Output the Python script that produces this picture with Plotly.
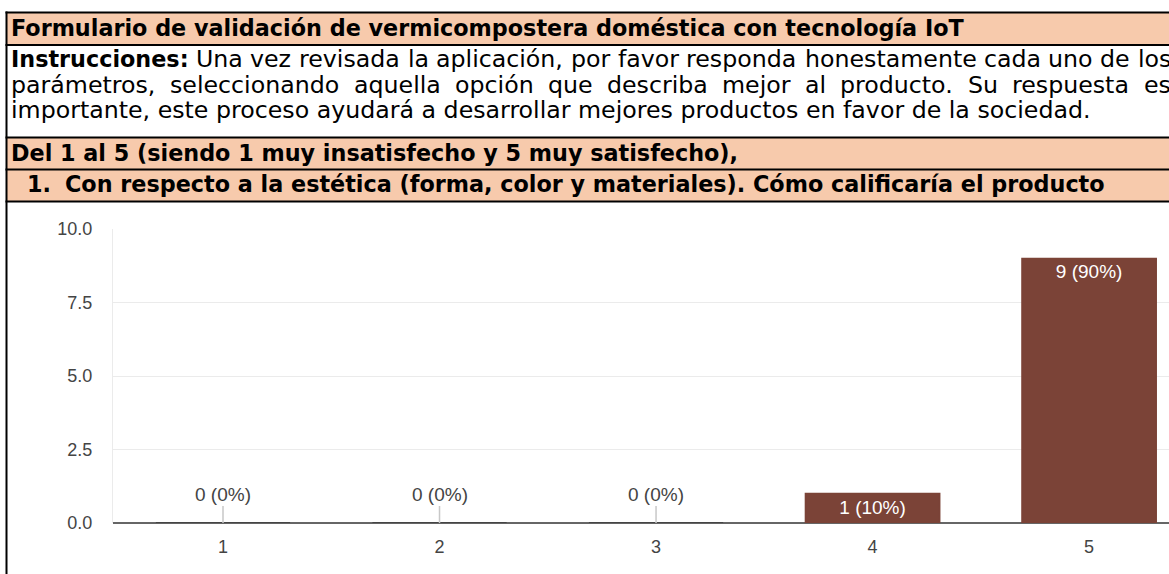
import unicodedata
import plotly.graph_objects as go

W, H = 1169, 574

# ---------------- data ----------------
categories = ["1", "2", "3", "4", "5"]
counts = [0, 0, 0, 1, 9]
y_ticks = [0, 2.5, 5, 7.5, 10]
y_tick_labels = ["0.0", "2.5", "5.0", "7.5", "10.0"]

title_text = "Formulario de validación de vermicompostera doméstica con tecnología IoT"
instr_bold = "Instrucciones:"
instr_lines = [
    "Una vez revisada la aplicación, por favor responda honestamente cada uno de los",
    "parámetros, seleccionando aquella opción que describa mejor al producto. Su respuesta es",
    "importante, este proceso ayudará a desarrollar mejores productos en favor de la sociedad.",
]
scale_text = "Del 1 al 5 (siendo 1 muy insatisfecho y 5 muy satisfecho),"
question_num = "1."
question_text = "Con respecto a la estética (forma, color y materiales). Cómo calificaría el producto"

# ---------------- styling ----------------
PEACH = "#F7CAAC"
BAR = "#7B4337"
TXT_FONT = "DejaVu Sans"
REG_SIZE = 23.7
BOLD_SIZE = 22.3
CHART_FONT = "Liberation Sans, Arial, sans-serif"

# approximate DejaVu Sans advance widths (units of 2048)
REG_W = dict(zip("abcdefghijklmnopqrstuvwxyz",
                 [1255, 1300, 1126, 1300, 1260, 721, 1300, 1298, 569, 569, 1186, 569, 1995,
                  1298, 1253, 1300, 1300, 842, 1067, 803, 1298, 1212, 1675, 1212, 1212, 1075]))
REG_W.update({" ": 651, ",": 651, ".": 651, ":": 690, "(": 799, ")": 799, "U": 1499,
              "S": 1300, "I": 604, "D": 1577, "C": 1430, "F": 1178})
BOLD_W = dict(zip("abcdefghijklmnopqrstuvwxyz",
                  [1382, 1466, 1214, 1466, 1389, 891, 1466, 1458, 702, 702, 1362, 702, 2134,
                   1458, 1407, 1466, 1466, 1010, 1219, 979, 1458, 1335, 1817, 1331, 1335, 1214]))
BOLD_W.update({" ": 713, ",": 780, ".": 780, ":": 819, "(": 936, ")": 936, "I": 762,
               "D": 1704, "C": 1464, "F": 1399, "T": 1399})


def base_char(ch):
    return unicodedata.normalize("NFD", ch)[0]


def text_width(s, bold):
    tbl = BOLD_W if bold else REG_W
    size = BOLD_SIZE if bold else REG_SIZE
    return sum(tbl.get(base_char(c), 1300) for c in s) / 2048 * size


def px(x):
    return x / W


def py(y):
    return 1 - y / H


fig = go.Figure()

total = sum(counts)
labels = [f"{c} ({round(100 * c / total)}%)" for c in counts]

# bars
fig.add_trace(go.Bar(
    x=categories, y=counts, width=0.62,
    marker=dict(color=BAR, line=dict(color=["#3a3a3a" if c == 0 else BAR for c in counts], width=1.5)),
    text=[lab if c > 0 else "" for lab, c in zip(labels, counts)],
    textposition="inside", insidetextanchor="end",
    textfont=dict(family=CHART_FONT, size=19, color="white"),
    constraintext="none", cliponaxis=False, showlegend=False, hoverinfo="skip",
))

annotations = []
# zero-value labels with stems (x given as category index)
for i, (c, lab) in enumerate(zip(counts, labels)):
    if c == 0:
        annotations.append(dict(
            x=i, y=c, xref="x", yref="y", text=lab,
            showarrow=True, arrowhead=0, arrowwidth=1.5, arrowcolor="#c8c8c8",
            ax=0, ay=-29, standoff=0,
            font=dict(family=CHART_FONT, size=19, color="#444444"),
        ))


def add_text(x, y, s, bold, size=None):
    size = size or (BOLD_SIZE if bold else REG_SIZE)
    annotations.append(dict(
        x=px(x), y=py(y), xref="paper", yref="paper", xanchor="left", yanchor="middle",
        text=f"<b>{s}</b>" if bold else s, showarrow=False, borderpad=0, borderwidth=0,
        font=dict(family=TXT_FONT, size=size, color="black"),
    ))


def add_justified(words, x0, x1, y):
    widths = [text_width(w, b) for w, b in words]
    gap = (x1 - x0 - sum(widths)) / (len(words) - 1)
    x = x0
    for (w, b), wd in zip(words, widths):
        add_text(x, y, w, b)
        x += wd + gap


LEFT = 11
RIGHT = 1171
add_text(LEFT, 28, title_text, True)
add_justified([(instr_bold, True)] + [(w, False) for w in instr_lines[0].split()], LEFT, RIGHT, 59.5)
add_justified([(w, False) for w in instr_lines[1].split()], LEFT, RIGHT, 84.5)
add_text(LEFT, 109.5, instr_lines[2], False)
add_text(LEFT, 153, scale_text, True)
add_text(27, 184, question_num, True)
add_text(65, 184, question_text, True)

shapes = []
# peach rows
for y0, y1 in [(13, 45), (137.5, 170), (170, 201.5)]:
    shapes.append(dict(type="rect", xref="paper", yref="paper", x0=px(6), x1=1, y0=py(y1), y1=py(y0),
                       fillcolor=PEACH, line=dict(width=0), layer="below"))
# horizontal borders
for yb in [12.5, 45, 137.5, 169.5, 201.5]:
    shapes.append(dict(type="line", xref="paper", yref="paper", x0=px(5.5), x1=1, y0=py(yb), y1=py(yb),
                       line=dict(color="black", width=2), layer="above"))
# left border
shapes.append(dict(type="line", xref="paper", yref="paper", x0=px(6.5), x1=px(6.5), y0=0, y1=py(11.5),
                   line=dict(color="black", width=2), layer="above"))

fig.update_layout(
    template="none",
    width=W, height=H, autosize=False,
    margin=dict(l=0, r=0, t=0, b=0, pad=0),
    paper_bgcolor="white", plot_bgcolor="white",
    annotations=annotations, shapes=shapes,
    xaxis=dict(
        type="category", domain=[px(113), 1], range=[-0.508, 4.369], automargin=False,
        showgrid=False, showline=False, zeroline=False,
        ticks="outside", ticklen=7, tickcolor="rgba(0,0,0,0)",
        tickfont=dict(family=CHART_FONT, size=18, color="#444444"),
        fixedrange=True,
    ),
    yaxis=dict(
        domain=[py(523), py(229)], range=[0, 10], automargin=False,
        tickvals=y_ticks, ticktext=y_tick_labels,
        showgrid=True, gridcolor="#ebebeb", gridwidth=1,
        zeroline=True, zerolinecolor="#666666", zerolinewidth=2,
        showline=True, linecolor="#ebebeb", linewidth=1,
        ticks="outside", ticklen=16, tickcolor="rgba(0,0,0,0)",
        tickfont=dict(family=CHART_FONT, size=18, color="#444444"),
        fixedrange=True,
    ),
)

fig.write_html(
    "out.html",
    config={"responsive": False, "displayModeBar": False},
    post_script=(
        "document.documentElement.style.margin='0';document.body.style.margin='0';"
        "document.body.style.padding='0';document.documentElement.style.overflow='hidden';"
        "document.body.style.overflow='hidden';"
        "var gd=document.getElementById('{plot_id}');"
        "gd.style.position='fixed';gd.style.top='0px';gd.style.left='0px';"
    ),
)
